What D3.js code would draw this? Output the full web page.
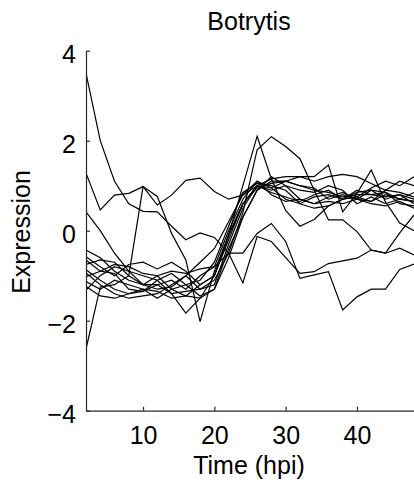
<!DOCTYPE html>
<html>
<head>
<meta charset="utf-8">
<script src="https://cdnjs.cloudflare.com/ajax/libs/d3/7.8.5/d3.min.js"></script>
<style>
html,body{margin:0;padding:0;background:#fff;}
svg{display:block;font-family:"Liberation Sans",Arial,Helvetica,sans-serif;}
</style>
</head>
<body>
<svg id="chart" width="414" height="487"></svg>
<script>
const times = [2,4,6,8,10,12,14,16,18,20,22,24,26,28,30,32,34,36,38,40,42,44,46,48];
const xTicks = [10,20,30,40];
const yTicks = [-4,-2,0,2,4];
const title = "Botrytis";
const xLabel = "Time (hpi)";
const yLabel = "Expression";

const gene01 = [3.5,2.0,1.1,0.6,0.43,0.42,0.1,-0.2,-0.05,-0.15,-0.5,-0.5,-0.06,0.16,-0.24,-1.06,-0.98,-0.91,-1.76,-1.47,-1.3,-1.3,-0.86,-0.74];
const gene02 = [1.28,0.46,0.79,0.83,0.98,0.57,0.79,1.12,1.17,0.87,0.7,0.79,1.0,1.15,1.2,1.2,1.1,1.2,1.25,1.2,1.05,0.9,1.1,1.0];
const gene03 = [-2.63,-1.25,-1.2,-1.0,0.98,0.76,-0.06,-0.65,-2.02,-0.9,-0.1,0.6,1.0,0.95,0.7,0.6,0.75,0.8,0.7,0.85,0.9,0.7,0.8,0.6];
const gene04 = [0.42,0.0,-0.5,-0.9,-1.2,-1.3,-1.25,-1.0,-0.7,-0.4,0.2,0.8,1.1,0.95,1.1,1.0,0.9,0.85,0.75,0.8,0.8,0.75,0.8,0.7];
const gene05 = [-0.43,-0.6,-0.9,-1.1,-1.2,-1.2,-1.1,-1.3,-1.0,-0.8,-0.5,-1.16,-0.13,-0.24,-0.6,-0.95,-0.91,-0.73,-0.67,-0.61,-0.43,-0.5,-0.39,-0.54];
const gene06 = [-0.58,-0.8,-1.0,-0.75,-0.7,-0.85,-0.7,-0.9,-1.2,-1.0,-0.1,1.0,2.1,1.15,0.45,0.1,0.25,0.55,0.7,0.75,0.65,0.8,0.7,0.65];
const gene07 = [-0.65,-0.9,-0.95,-1.3,-1.35,-1.2,-1.4,-1.35,-1.3,-1.1,-0.5,0.4,1.8,2.09,1.87,1.6,0.9,0.24,0.24,-0.02,-0.43,-0.5,-0.05,0.35];
const gene08 = [-0.87,-1.1,-1.3,-1.4,-1.35,-1.1,-0.95,-1.2,-1.45,-1.3,-0.6,0.3,0.9,1.1,1.1,1.2,1.2,1.46,0.42,0.83,1.35,0.64,0.17,0.0];
const gene09 = [-0.94,-1.2,-1.4,-1.5,-1.45,-1.4,-1.2,-1.0,-1.3,-1.2,-0.3,0.5,1.0,0.85,0.75,0.65,0.8,0.9,0.7,0.75,0.95,1.1,1.0,1.2];
const gene10 = [-1.02,-0.9,-0.75,-0.8,-0.95,-1.0,-1.3,-1.2,-1.1,-0.7,0.1,0.85,1.05,1.0,0.9,0.6,0.5,0.55,0.7,0.9,0.8,0.85,0.6,0.55];
const gene11 = [-1.13,-1.3,-1.1,-1.2,-1.3,-1.5,-1.3,-1.45,-1.2,-1.0,-0.2,0.6,0.95,1.05,1.1,1.0,0.95,0.7,0.8,0.7,0.65,0.9,0.85,0.75];
const gene12 = [-1.24,-1.45,-1.5,-1.4,-1.3,-1.35,-1.5,-1.45,-1.5,-1.3,-0.4,0.3,0.9,1.2,1.0,0.9,0.85,1.0,0.9,0.6,0.75,0.6,0.7,0.65];
const gene13 = [-1.32,-1.0,-0.8,-0.9,-1.0,-1.1,-1.4,-1.83,-1.5,-1.0,-0.1,0.6,1.0,0.9,1.0,0.7,0.6,0.65,0.6,0.7,0.6,0.55,0.65,0.5];
const gene14 = [-0.75,-0.65,-0.7,-1.0,-1.2,-1.0,-0.9,-0.95,-0.85,-0.8,0.0,0.7,1.1,0.8,0.65,0.7,0.6,0.75,0.85,0.7,0.9,0.85,0.7,0.85];

const series = [gene01,gene02,gene03,gene04,gene05,gene06,gene07,gene08,gene09,gene10,gene11,gene12,gene13,gene14];

const svg = d3.select("#chart");
const mLeft = 86, mRight = 414, mTop = 50.7, mBottom = 410.7;
const fs = 25;
const axisColor = "#262626";

const x = d3.scaleLinear().domain([2,48]).range([mLeft,mRight]);
const y = d3.scaleLinear().domain([-4,4]).range([mBottom,mTop]);

svg.append("defs").append("clipPath").attr("id","clip")
  .append("rect").attr("x",mLeft).attr("y",mTop).attr("width",mRight-mLeft).attr("height",mBottom-mTop);

const line = d3.line().x((d,i)=>x(times[i])).y(d=>y(d));
svg.append("g").attr("clip-path","url(#clip)")
  .selectAll("path").data(series).join("path")
  .attr("d",line).attr("fill","none").attr("stroke","#000")
  .attr("stroke-width",1.2).attr("stroke-linejoin","miter");

const xAxis = d3.axisBottom(x).tickValues(xTicks).tickSize(-4).tickSizeOuter(0);
const yAxis = d3.axisLeft(y).tickValues(yTicks).tickSize(-4).tickSizeOuter(0).tickPadding(10);

const gx = svg.append("g").attr("transform",`translate(0,${mBottom})`).call(xAxis);
const gy = svg.append("g").attr("transform",`translate(${mLeft},0)`).call(yAxis);
[gx,gy].forEach(g=>{
  g.select(".domain").attr("stroke",axisColor).attr("stroke-width",1.2);
  g.selectAll(".tick line").attr("stroke",axisColor).attr("stroke-width",1.2);
  g.selectAll(".tick text").attr("fill","#000").style("font-size",fs+"px")
   .style("font-family",'"Liberation Sans",Arial,sans-serif');
});
gx.selectAll(".tick text").attr("dy",null).attr("y",33);
gy.selectAll(".tick text").attr("dy",null).attr("y",12);

svg.append("text").attr("x",249).attr("y",30).attr("text-anchor","middle")
  .style("font-size",fs+"px").text(title);
svg.append("text").attr("x",249).attr("y",474).attr("text-anchor","middle")
  .style("font-size",fs+"px").text(xLabel);
svg.append("text").attr("transform","translate(30,232) rotate(-90)").attr("text-anchor","middle")
  .style("font-size",fs+"px").text(yLabel);
</script>
</body>
</html>
